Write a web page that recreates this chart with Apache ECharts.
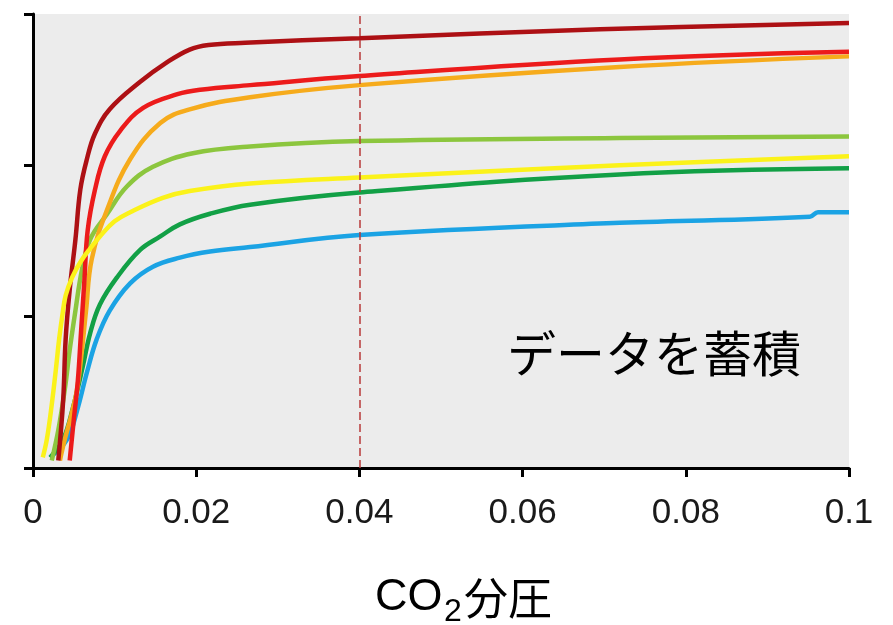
<!DOCTYPE html>
<html>
<head>
<meta charset="utf-8">
<script src="https://cdn.jsdelivr.net/npm/echarts@6/dist/echarts.min.js"></script>
<style>
  html, body { margin: 0; padding: 0; background: #ffffff; }
  #chart { width: 893px; height: 625px; }
</style>
</head>
<body>
<div id="chart"></div>
<script>
// x tick labels (CO2 partial pressure)
const xTickLabels = ['0', '0.02', '0.04', '0.06', '0.08', '0.1'];

// Curves as [CO2 partial pressure, response] pairs
const darkRedCurve = [
  [0.0031, 0.05], [0.0037, 0.45], [0.0040, 0.85], [0.0045, 1.18], [0.0052, 1.51],
  [0.0058, 1.84], [0.0066, 2.04], [0.0076, 2.21], [0.0094, 2.37], [0.0131, 2.55],
  [0.0164, 2.68], [0.0192, 2.765], [0.0215, 2.795], [0.0260, 2.81], [0.0400, 2.84],
  [0.0695, 2.90], [0.1000, 2.94]
];
const redCurve = [
  [0.0045, 0.05], [0.0050, 0.32], [0.0055, 0.58], [0.0059, 0.91], [0.0063, 1.24],
  [0.0067, 1.57], [0.0076, 1.84], [0.0088, 2.06], [0.0107, 2.23], [0.0135, 2.38],
  [0.0177, 2.47], [0.0205, 2.50], [0.0266, 2.53], [0.0400, 2.59],
  [0.0719, 2.70], [0.1000, 2.75]
];
const orangeCurve = [
  [0.0033, 0.05], [0.0039, 0.19], [0.0047, 0.35], [0.0054, 0.52], [0.0060, 0.78],
  [0.0065, 1.04], [0.0072, 1.38], [0.0091, 1.71], [0.0119, 2.04], [0.0156, 2.28],
  [0.0192, 2.37], [0.0266, 2.45], [0.0400, 2.53], [0.0719, 2.65],
  [0.1000, 2.72]
];
const lightGreenCurve = [
  [0.0023, 0.05], [0.0031, 0.25], [0.0039, 0.52], [0.0045, 0.78], [0.0052, 1.04],
  [0.0060, 1.31], [0.0070, 1.51], [0.0091, 1.68], [0.0115, 1.86], [0.0147, 1.99],
  [0.0196, 2.08], [0.0266, 2.125], [0.0400, 2.16], [0.0719, 2.18], [0.1000, 2.19]
];
const yellowCurve = [
  [0.0012, 0.07], [0.0017, 0.19], [0.0023, 0.42], [0.0028, 0.65], [0.0032, 0.85],
  [0.0036, 1.01], [0.0040, 1.14], [0.0048, 1.26], [0.0058, 1.36], [0.0070, 1.45],
  [0.0082, 1.53], [0.0100, 1.63], [0.0119, 1.69], [0.0159, 1.785], [0.0192, 1.83],
  [0.0266, 1.88], [0.0400, 1.92], [0.0719, 2.00], [0.1000, 2.06]
];
const greenCurve = [
  [0.0021, 0.07], [0.0037, 0.19], [0.0049, 0.40], [0.0061, 0.67], [0.0070, 0.89],
  [0.0082, 1.08], [0.0103, 1.26], [0.0131, 1.44], [0.0156, 1.53], [0.0180, 1.61],
  [0.0217, 1.68], [0.0266, 1.74], [0.0400, 1.82], [0.0719, 1.94],
  [0.1000, 1.98]
];
const blueCurve = [
  [0.0021, 0.07], [0.0042, 0.19], [0.0054, 0.38], [0.0066, 0.63], [0.0078, 0.85],
  [0.0094, 1.04], [0.0119, 1.22], [0.0147, 1.33], [0.0180, 1.39], [0.0217, 1.43],
  [0.0266, 1.46], [0.0400, 1.54], [0.0719, 1.62], [0.0952, 1.66], [0.0962, 1.69],
  [0.1000, 1.69]
];

const curves = [
  { name: 'blue', data: blueCurve, color: '#1ba3e4' },
  { name: 'green', data: greenCurve, color: '#12a046' },
  { name: 'lightGreen', data: lightGreenCurve, color: '#8cc63e' },
  { name: 'orange', data: orangeCurve, color: '#f6ab1c' },
  { name: 'red', data: redCurve, color: '#ec1b1b' },
  { name: 'darkRed', data: darkRedCurve, color: '#ad1014' },
  { name: 'yellow', data: yellowCurve, color: '#fbf21a' }
];

const chart = echarts.init(document.getElementById('chart'), null, { renderer: 'canvas' });

const series = curves.map(function (c) {
  return {
    name: c.name,
    type: 'line',
    data: c.data,
    showSymbol: false,
    symbol: 'none',
    smooth: 0.4,
    lineStyle: { color: c.color, width: 4.5 },
    silent: true
  };
});

// reference line at 0.04
series.push({
  name: 'ref',
  type: 'line',
  data: [],
  markLine: {
    silent: true,
    symbol: 'none',
    label: { show: false },
    lineStyle: { color: '#b83a3a', width: 1.5, type: [8, 4] },
    data: [{ xAxis: 0.04 }]
  }
});

chart.setOption({
  animation: false,
  backgroundColor: '#ffffff',
  grid: {
    left: 33, right: 44, top: 14, bottom: 157,
    show: true, backgroundColor: '#ececec', borderWidth: 0
  },
  xAxis: {
    type: 'value',
    min: 0, max: 0.1, interval: 0.02,
    axisLine: { show: true, lineStyle: { color: '#000', width: 3 } },
    axisTick: { show: true, length: 9, lineStyle: { color: '#000', width: 3 } },
    splitLine: { show: false },
    axisLabel: {
      margin: 28,
      fontSize: 35,
      fontFamily: 'Liberation Sans, Arial, sans-serif',
      color: '#1a1a1a',
      formatter: function (v) {
        const i = Math.round(v / 0.02);
        return xTickLabels[i] !== undefined ? xTickLabels[i] : '';
      }
    }
  },
  yAxis: {
    type: 'value',
    min: 0, max: 3, interval: 1,
    axisLine: { show: true, lineStyle: { color: '#000', width: 3 } },
    axisTick: { show: true, length: 9, lineStyle: { color: '#000', width: 3 } },
    splitLine: { show: false },
    axisLabel: { show: false }
  },
  graphic: [
    {
      type: 'text', left: 507, top: 357 - 28,
      style: {
        text: 'データを蓄積',
        font: '49px "Noto Sans CJK JP"',
        fill: '#000'
      }
    },
    {
      type: 'text', x: 375, y: 598,
      style: {
        text: 'CO', font: '45px "Liberation Sans", Arial, sans-serif',
        fill: '#000', verticalAlign: 'middle', align: 'left'
      }
    },
    {
      type: 'text', x: 444, y: 612,
      style: {
        text: '2', font: '32px "Liberation Sans", Arial, sans-serif',
        fill: '#000', verticalAlign: 'middle', align: 'left'
      }
    },
    {
      type: 'text', x: 464, y: 598,
      style: {
        text: '分圧', font: '44px "Noto Sans CJK JP"',
        fill: '#000', verticalAlign: 'middle', align: 'left'
      }
    }
  ],
  series: series
});
</script>
</body>
</html>
